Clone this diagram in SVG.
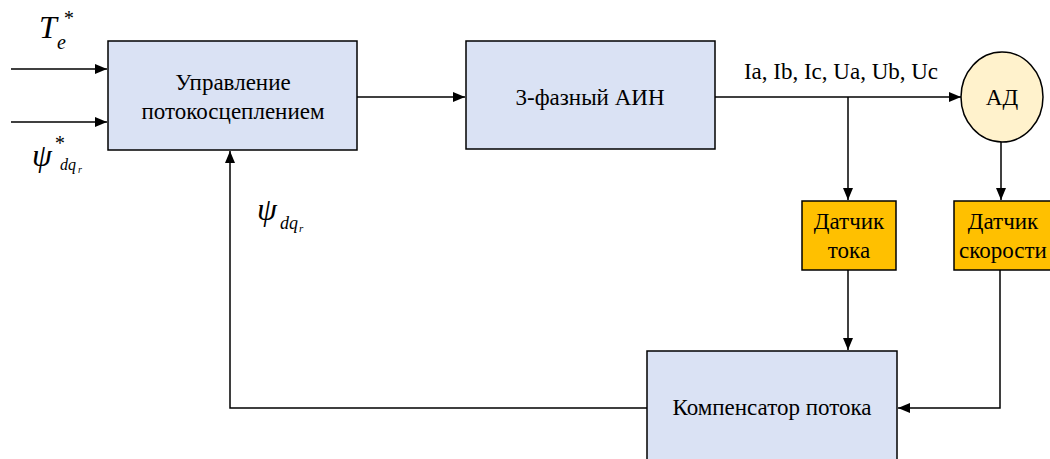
<svg xmlns="http://www.w3.org/2000/svg" width="1050" height="459" viewBox="0 0 1050 459">
<style>
.blk{fill:#dae2f4;stroke:#000;stroke-width:1.5}
.sen{fill:#ffc000;stroke:#000;stroke-width:1.5}
.mot{fill:#fff2cc;stroke:#000;stroke-width:1.5}
.t{font-size:23px;fill:#000;text-anchor:middle}
.m{font-style:italic;fill:#000}
.c{fill:none;stroke:#000;stroke-width:1.5}
</style>
<defs>
<marker id="a" markerWidth="12" markerHeight="10" refX="12" refY="5" orient="auto" markerUnits="userSpaceOnUse">
<path d="M0,0 L12,5 L0,10 z" fill="#000"/>
</marker>
</defs>
<g id="connectors">
<path class="c" d="M11,69 H107" marker-end="url(#a)"/>
<path class="c" d="M11,122 H107" marker-end="url(#a)"/>
<path class="c" d="M357,97 H465" marker-end="url(#a)"/>
<path class="c" d="M715,97 H961" marker-end="url(#a)"/>
<path class="c" d="M848,97 V200" marker-end="url(#a)"/>
<path class="c" d="M1001,142 V200" marker-end="url(#a)"/>
<path class="c" d="M848,270 V350" marker-end="url(#a)"/>
<path class="c" d="M1000,270 V408 H898" marker-end="url(#a)"/>
<path class="c" d="M647,408 H230 V151" marker-end="url(#a)"/>
</g>
<g font-family="Liberation Serif, Times New Roman, serif">
<g id="flux-control">
<rect class="blk" x="108" y="41" width="249" height="109"/>
<text class="t" x="233" y="90">Управление</text>
<text class="t" x="233" y="119">потокосцеплением</text>
</g>
<g id="inverter">
<rect class="blk" x="466" y="41" width="249" height="108"/>
<text class="t" x="590" y="105">3-фазный АИН</text>
</g>
<g id="motor">
<ellipse class="mot" cx="1002" cy="97" rx="41" ry="45"/>
<text class="t" x="1002" y="105">АД</text>
</g>
<g id="current-sensor">
<rect class="sen" x="802" y="201" width="94" height="69"/>
<text class="t" x="849" y="229">Датчик</text>
<text class="t" x="849" y="258">тока</text>
</g>
<g id="speed-sensor">
<rect class="sen" x="954" y="201" width="110" height="69"/>
<text class="t" x="1003" y="229">Датчик</text>
<text class="t" x="1003" y="258">скорости</text>
</g>
<g id="flux-compensator">
<rect class="blk" x="647" y="351" width="250" height="120"/>
<text class="t" x="772" y="415">Компенсатор потока</text>
</g>
<g id="labels">
<text class="t" x="841" y="79" font-size="21">Ia, Ib, Ic, Ua, Ub, Uc</text>
<text class="m" x="39" y="38" font-size="32">T</text>
<text class="m" x="57" y="49" font-size="20">e</text>
<text class="m" x="63" y="25" font-size="20">*</text>
<text class="m" x="32" y="166" font-size="32">ψ</text>
<text class="m" x="54" y="150" font-size="20">*</text>
<text class="m" x="60" y="170" font-size="16">dq</text>
<text class="m" x="78" y="173" font-size="10">r</text>
<text class="m" x="257" y="220" font-size="32">ψ</text>
<text class="m" x="280" y="229" font-size="18">dq</text>
<text class="m" x="299" y="232" font-size="11">r</text>
</g>
</g>
</svg>
